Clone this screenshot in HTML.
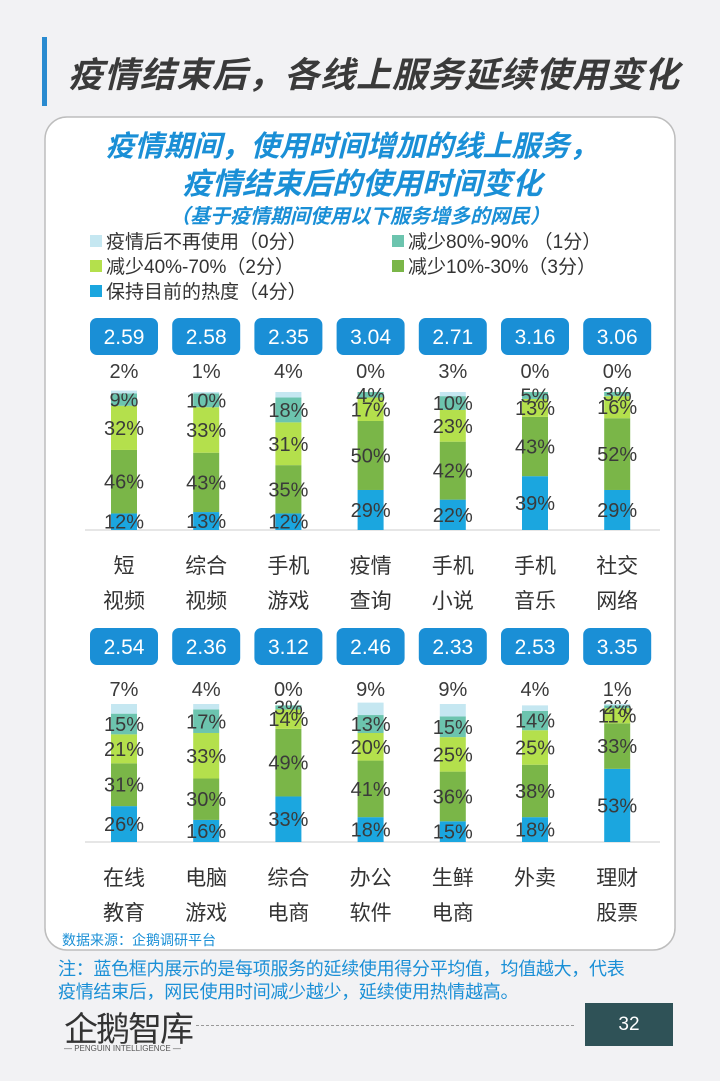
<!DOCTYPE html>
<html><head><meta charset="utf-8">
<style>
body{margin:0;background:#f2f2f4;font-family:"Liberation Sans","Noto Sans CJK SC",sans-serif;}
#page{position:relative;width:720px;height:1081px;overflow:hidden;background:#f2f2f4;}
.abs{position:absolute;}
</style></head>
<body>
<div id="page">
<div class="abs" style="left:42px;top:37px;width:5px;height:69px;background:#2a8bd0"></div>
<div class="abs" style="left:68px;top:47px;font-size:35px;font-weight:bold;font-style:italic;color:#3a3a3a;white-space:nowrap;letter-spacing:1px">疫情结束后，各线上服务延续使用变化</div>
<svg class="abs" style="left:0;top:0" width="720" height="1081" id="chart">
<rect x="45" y="117" width="630" height="833" rx="22" fill="#fff" stroke="#bdbdbd" stroke-width="1.5"/>
<text x="352" y="156" text-anchor="middle" font-size="29" font-weight="bold" font-style="italic" fill="#1a8fd6">疫情期间，使用时间增加的线上服务，</text>
<text x="362" y="194" text-anchor="middle" font-size="30" font-weight="bold" font-style="italic" fill="#1a8fd6">疫情结束后的使用时间变化</text>
<text x="360" y="223" text-anchor="middle" font-size="20" font-weight="bold" font-style="italic" fill="#1a8fd6">（基于疫情期间使用以下服务增多的网民）</text>
<g id="legend"></g>
<g id="marks"></g>
<text x="62" y="945" font-size="14" fill="#1a8fd6">数据来源：企鹅调研平台</text>
</svg>
<div class="abs" style="left:58px;top:958px;width:660px;font-size:18px;line-height:23px;color:#1a8fd6;white-space:nowrap;letter-spacing:-0.3px">注：蓝色框内展示的是每项服务的延续使用得分平均值，均值越大，代表<br>疫情结束后，网民使用时间减少越少，延续使用热情越高。</div>
<div class="abs" style="left:64px;top:1002px;font-size:34px;color:#333;letter-spacing:-2px">企鹅智库</div>
<div class="abs" style="left:64px;top:1044px;font-size:8px;color:#555">— PENGUIN INTELLIGENCE —</div>
<div class="abs" style="left:196px;top:1025px;width:378px;border-top:1px dashed #999"></div>
<div class="abs" style="left:585px;top:1003px;width:88px;height:43px;background:#2f5257;color:#fff;font-size:19px;line-height:43px;text-align:center">32</div>
</div>
<script>
const catsTop=[["短","视频"],["综合","视频"],["手机","游戏"],["疫情","查询"],["手机","小说"],["手机","音乐"],["社交","网络"]];
const catsBot=[["在线","教育"],["电脑","游戏"],["综合","电商"],["办公","软件"],["生鲜","电商"],["外卖",""],["理财","股票"]];
const scoresTop=["2.59","2.58","2.35","3.04","2.71","3.16","3.06"];
const scoresBot=["2.54","2.36","3.12","2.46","2.33","2.53","3.35"];
// per category: [0分, 1分, 2分, 3分, 4分]
const valsTop=[[2,9,32,46,12],[1,10,33,43,13],[4,18,31,35,12],[0,4,17,50,29],[3,10,23,42,22],[0,5,13,43,39],[0,3,16,52,29]];
const valsBot=[[7,15,21,31,26],[4,17,33,30,16],[0,3,14,49,33],[9,13,20,41,18],[9,15,25,36,15],[4,14,25,38,18],[1,2,11,33,53]];
const legendLabels=["疫情后不再使用（0分）","减少80%-90% （1分）","减少40%-70%（2分）","减少10%-30%（3分）","保持目前的热度（4分）"];
const colors=["#c5e7f1","#6cc4ae","#b4e04c","#7ab648","#1ba6df"];
const NS="http://www.w3.org/2000/svg";
function mk(tag,attrs,parent,txt){const e=document.createElementNS(NS,tag);for(const k in attrs)e.setAttribute(k,attrs[k]);if(txt!==undefined)e.textContent=txt;parent.appendChild(e);return e;}
const lg=document.getElementById('legend');
const legPos=[[90,248],[392,248],[90,273],[392,273],[90,298]];
legendLabels.forEach((l,i)=>{
  const r=mk('rect',{x:legPos[i][0],y:legPos[i][1]-13,width:12,height:12,fill:colors[i]},lg);
  
  
  const t=mk('text',{x:legPos[i][0]+16,y:legPos[i][1],'font-size':19,fill:'#333'},lg,l);
  
  
});
const marks=document.getElementById('marks');
const xCenter=i=>124+i*82.2;
const pxPer=1.38;
function panel(cats,scores,vals,base,boxY,topLabY,catY){
  mk('line',{x1:85,x2:660,y1:base,y2:base,stroke:'#ccc','stroke-width':1},marks);
  cats.forEach((c,i)=>{
    const cx=xCenter(i);
    const b=mk('rect',{x:cx-34,y:boxY,width:68,height:37,rx:7,fill:'#1a8fd6'},marks);
    
    
    const st=mk('text',{x:cx,y:boxY+26,'text-anchor':'middle','font-size':21,fill:'#fff'},marks,scores[i]);
    
    
    let y=base;
    for(let k=4;k>=0;k--){
      const h=vals[i][k]*pxPer;
      y-=h;
      const r=mk('rect',{x:cx-13,y:y,width:26,height:h,fill:colors[k]},marks);
      
      
      const ly=k===0?topLabY:Math.min(y+h/2+7,base+6);
      const t=mk('text',{x:cx,y:ly,'text-anchor':'middle','font-size':20,fill:'#3a3a3a'},marks,vals[i][k]+'%');
      
      
    }
    c.forEach((s,j)=>{
      const t=mk('text',{x:cx,y:catY+j*35,'text-anchor':'middle','font-size':21,fill:'#333'},marks,s);
      
      
    });
  });
}
panel(catsTop,scoresTop,valsTop,530,318,378,573);
panel(catsBot,scoresBot,valsBot,842,628,696,885);
</script>
</body></html>
